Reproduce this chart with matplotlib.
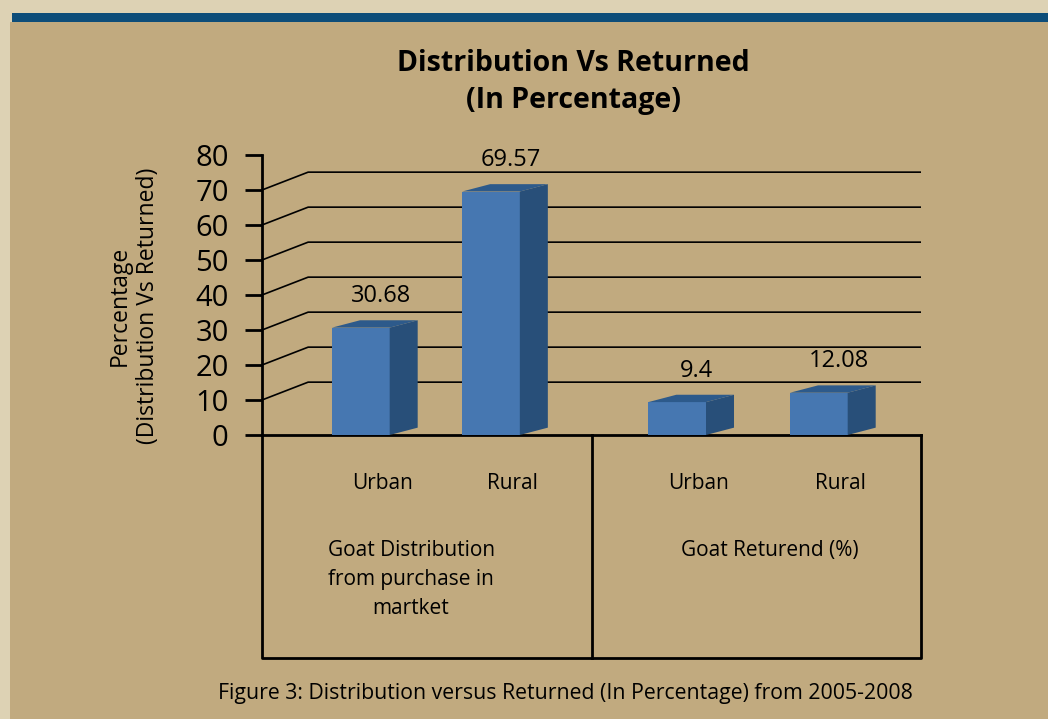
import numpy as np
import matplotlib
matplotlib.use("Agg")
import matplotlib.pyplot as plt
from matplotlib.patches import Polygon, Rectangle

plt.rcParams['font.family'] = ['Open Sans', 'DejaVu Sans']

# data
categories = ["Urban", "Rural", "Urban", "Rural"]
values = [30.68, 69.57, 9.4, 12.08]
value_labels = ["30.68", "69.57", "9.4", "12.08"]
groups = ["Goat Distribution\nfrom purchase in\nmartket", "Goat Returend (%)"]
yticks = [0, 10, 20, 30, 40, 50, 60, 70, 80]

# layout (data units on the x axis: each group spans 2)
xpos = np.array([0.60, 1.39, 2.52, 3.38])
bar_w = 0.35
dx, dy = 0.17, 2.1        # depth of the fake 3D bars
wdx, wdy = 0.28, 5.1      # depth of the back wall
box_bottom = -63.7

front = '#4677b1'
side = '#284f79'
top = '#2d5a8b'

W, H = 1048, 719
fig = plt.figure(figsize=(W / 100, H / 100), dpi=100)
fig.patch.set_facecolor('#ddd2b4')
fig.patches.append(Rectangle((10 / W, 0), 1, 1 - 22 / H, transform=fig.transFigure,
                             facecolor='#c1aa7f', edgecolor='none', zorder=-5))
fig.patches.append(Rectangle((12 / W, 1 - 22 / H), 1, 9 / H, transform=fig.transFigure,
                             facecolor='#0d4d79', edgecolor='none', zorder=-5))

ax = fig.add_axes([262 / W, (H - 435) / H, (921 - 262) / W, 280 / H])
ax.set_facecolor('none')
ax.set_xlim(0, 4)
ax.set_ylim(0, 80)
for s in ['top', 'right', 'bottom']:
    ax.spines[s].set_visible(False)
ax.spines['left'].set_linewidth(2)
ax.set_xticks([])
ax.set_yticks(yticks)
ax.tick_params(axis='y', length=12, width=2, pad=12, labelsize=21)

# back wall gridlines
for v in yticks[1:]:
    ax.plot([0, wdx, 4], [v, v + wdy, v + wdy], color='black', lw=1.2, zorder=1)

# floor line and table box below
ax.plot([0, 4], [0, 0], color='black', lw=2, zorder=2, clip_on=False)
ax.plot([0, 0, 4, 4], [0, box_bottom, box_bottom, 0], color='black', lw=2, clip_on=False)
ax.plot([2, 2], [0, box_bottom], color='black', lw=2, clip_on=False)

# bars
ax.bar(xpos, values, width=bar_w, color=front, zorder=3, clip_on=False)
for x, v in zip(xpos, values):
    l, r = x - bar_w / 2, x + bar_w / 2
    ax.add_patch(Polygon([(r, 0), (r + dx, dy), (r + dx, v + dy), (r, v)],
                         closed=True, facecolor=side, edgecolor='none', zorder=3, clip_on=False))
    ax.add_patch(Polygon([(l, v), (l + dx, v + dy), (r + dx, v + dy), (r, v)],
                         closed=True, facecolor=top, edgecolor='none', zorder=3, clip_on=False))

for x, v, t in zip(xpos, values, value_labels):
    ax.text(x + 0.12, v + 9, t, ha='center', va='center', fontsize=17, clip_on=False)

for x, c in zip(xpos, categories):
    ax.text(x + 0.13, -13.8, c, ha='center', va='center', fontsize=15)

ax.text(0.905, -41.4, groups[0], ha='center', va='center', fontsize=15, linespacing=1.5)
ax.text(3.08, -32.9, groups[1], ha='center', va='center', fontsize=15)

fig.text(134 / W, 1 - 306 / H, "Percentage\n(Distribution Vs Returned)", rotation=90,
         ha='center', va='center', multialignment='center', fontsize=16.5, linespacing=1.2)
fig.text(573 / W, 1 - 82 / H, "Distribution Vs Returned\n(In Percentage)", ha='center',
         va='center', fontsize=20.5, fontweight='bold', linespacing=1.4)
fig.text(565 / W, 1 - 693 / H,
         "Figure 3: Distribution versus Returned (In Percentage) from 2005-2008",
         ha='center', va='center', fontsize=15.3)

fig.savefig('out.png', dpi=100, facecolor=fig.get_facecolor())
